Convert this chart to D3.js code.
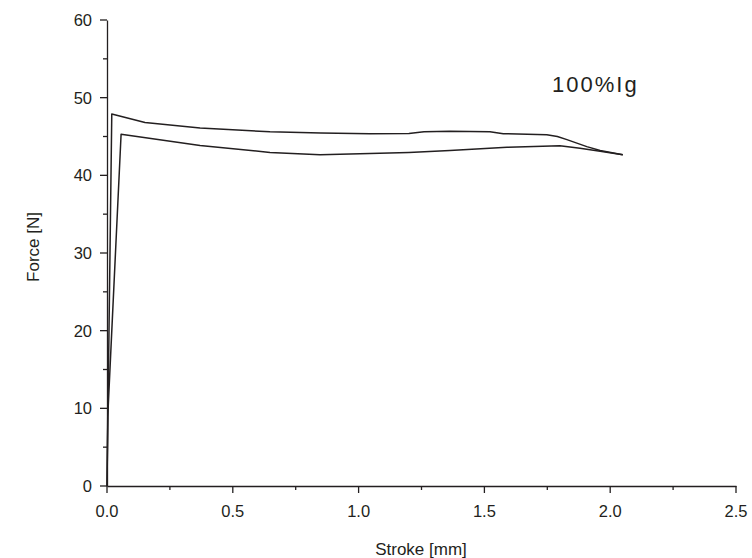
<!DOCTYPE html>
<html><head><meta charset="utf-8">
<script src="https://cdn.jsdelivr.net/npm/d3@7"></script>
<style>body{margin:0;background:#fff}svg{display:block}text{font-family:"Liberation Sans",Arial,sans-serif;fill:#231f20}</style>
</head><body><svg id="c" width="752" height="558"></svg>
<script>
const xTicks = [0, 0.5, 1.0, 1.5, 2.0, 2.5];
const yTicks = [0, 10, 20, 30, 40, 50, 60];
const upperStroke = [0, 0.019, 0.151, 0.37, 0.648, 0.85, 1.045, 1.2, 1.26, 1.363, 1.522, 1.575, 1.748, 1.79, 1.828, 1.907, 1.96, 2.05];
const upperForce  = [0, 47.9, 46.8, 46.1, 45.6, 45.45, 45.36, 45.4, 45.6, 45.66, 45.6, 45.36, 45.23, 45.0, 44.6, 43.7, 43.2, 42.65];
const lowerStroke = [0, 0.003, 0.056, 0.37, 0.648, 0.847, 1.045, 1.2, 1.363, 1.59, 1.8, 1.88, 1.96, 2.05];
const lowerForce  = [0, 9, 45.3, 43.85, 42.95, 42.65, 42.8, 42.95, 43.2, 43.6, 43.8, 43.5, 43.1, 42.65];
const label = "100%Ig";

const svg = d3.select("#c");
const x = d3.scaleLinear().domain([0, 2.5]).range([107, 736]);
const y = d3.scaleLinear().domain([0, 60]).range([486, 20]);
const col = "#231f20";

const gx = svg.append("g").attr("transform", "translate(0,486)");
gx.call(d3.axisBottom(x).tickValues(d3.range(0, 2.51, 0.25)).tickSize(0).tickFormat(""));
gx.selectAll(".tick line").remove();
gx.select(".domain").attr("stroke", col).attr("stroke-width", 1.3);
d3.range(0, 2.51, 0.25).forEach((v, i) => {
  gx.append("line").attr("x1", x(v)).attr("x2", x(v)).attr("y1", 0).attr("y2", i % 2 === 0 ? 7 : 4).attr("stroke", col).attr("stroke-width", 1.3);
});
gx.selectAll(".lbl").data(xTicks).enter().append("text").attr("x", d => x(d)).attr("y", 31)
  .attr("text-anchor", "middle").attr("font-size", 16.5).text(d => d.toFixed(1));

const gy = svg.append("g").attr("transform", "translate(107,0)");
gy.call(d3.axisLeft(y).tickValues(d3.range(0, 61, 5)).tickSize(0).tickFormat(""));
gy.select(".domain").attr("stroke", col).attr("stroke-width", 1.3);
d3.range(0, 61, 5).forEach((v, i) => {
  gy.append("line").attr("y1", y(v)).attr("y2", y(v)).attr("x1", 0).attr("x2", i % 2 === 0 ? -7 : -4).attr("stroke", col).attr("stroke-width", 1.3);
});
gy.selectAll(".lbl").data(yTicks).enter().append("text").attr("x", -15).attr("y", d => y(d) + 6)
  .attr("text-anchor", "end").attr("font-size", 16.5).text(d => d);

const line = d3.line().x(d => x(d[0])).y(d => y(d[1]));
[[upperStroke, upperForce], [lowerStroke, lowerForce]].forEach(([s, f]) => {
  svg.append("path").datum(s.map((v, i) => [v, f[i]])).attr("d", line)
    .attr("fill", "none").attr("stroke", col).attr("stroke-width", 1.5).attr("stroke-linejoin", "round");
});

svg.append("text").attr("x", 421).attr("y", 555).attr("text-anchor", "middle").attr("font-size", 17).text("Stroke [mm]");
svg.append("text").attr("transform", "translate(39,247) rotate(-90)").attr("text-anchor", "middle").attr("font-size", 17).text("Force [N]");
svg.append("text").attr("x", 552).attr("y", 92).attr("font-size", 22).attr("letter-spacing", 2).text(label);
</script></body></html>
